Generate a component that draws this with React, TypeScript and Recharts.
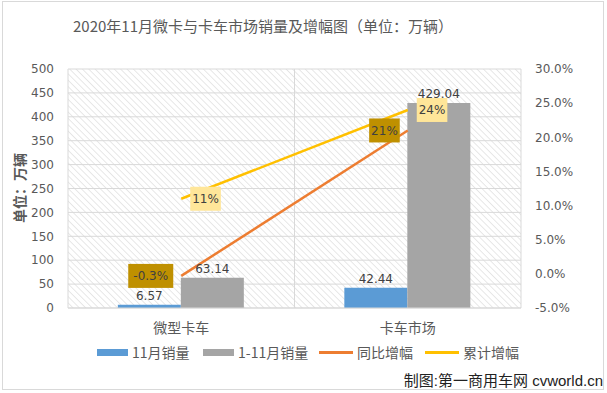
import { ComposedChart, Bar, Line, XAxis, YAxis, CartesianGrid, LabelList } from 'recharts';

const categories = ['微型卡车', '卡车市场'];
const novSales = [6.57, 42.44];
const ytdSales = [63.14, 429.04];
const yoyGrowth = [-0.3, 21];
const ytdGrowth = [11, 24];
const leftTicks = [0, 50, 100, 150, 200, 250, 300, 350, 400, 450, 500];
const rightTicks = [-5, 0, 5, 10, 15, 20, 25, 30];

const data = categories.map((name, i) => ({
  name,
  nov: novSales[i],
  ytd: ytdSales[i],
  yoy: yoyGrowth[i],
  cum: ytdGrowth[i],
}));

const NUM_FONT = '"DejaVu Sans", "Noto Sans CJK SC", sans-serif';
const CJK_FONT = '"Noto Sans CJK SC", "DejaVu Sans", sans-serif';
const TEXT = '#595959';

const BLUE = '#5B9BD5';
const GRAY = '#A5A5A5';
const ORANGE = '#ED7D31';
const YELLOW = '#FFC000';

const boxLabel = (side: 'left' | 'right', bg: string) => (props: any) => {
  const { x, y, value } = props;
  const txt = `${value}%`;
  const w = txt.length * 7.2 + 9;
  const h = 24;
  const bx = side === 'left' ? x - 8 - w : x + 9;
  return (
    <g>
      <rect x={bx} y={y - h / 2} width={w} height={h} fill={bg} />
      <text
        x={bx + w / 2}
        y={y + 1}
        textAnchor="middle"
        dominantBaseline="middle"
        fontSize={12}
        fontFamily={NUM_FONT}
        fill="#404040"
      >
        {txt}
      </text>
    </g>
  );
};

// legend entries, left edge of each swatch as in the reference
const legendItems = [
  { label: '11月销量', color: BLUE, kind: 'bar', left: 97 },
  { label: '1-11月销量', color: GRAY, kind: 'bar', left: 203 },
  { label: '同比增幅', color: ORANGE, kind: 'line', left: 319 },
  { label: '累计增幅', color: YELLOW, kind: 'line', left: 425 },
];

export default function App() {
  return (
    <div style={{ position: 'absolute', left: 0, top: 0, width: 607, height: 393, background: '#fff' }}>
      <div
        style={{
          position: 'absolute',
          left: 2,
          top: 1,
          width: 602,
          height: 389,
          border: '1px solid #d9d9d9',
          boxSizing: 'border-box',
        }}
      />
      <ComposedChart
        width={607}
        height={393}
        data={data}
        margin={{ top: 69, right: 26, bottom: 55, left: 18 }}
        barCategoryGap="22%"
        barGap={0}
      >
        <defs>
          <pattern id="hatch" width="4.5" height="4.5" patternUnits="userSpaceOnUse" patternTransform="rotate(-45)">
            <rect width="4.5" height="4.5" fill="#ffffff" />
            <line x1="0" y1="0" x2="0" y2="4.5" stroke="#d9d9d9" strokeWidth="1.2" />
          </pattern>
        </defs>
        <CartesianGrid
          yAxisId="left"
          fill="url(#hatch)"
          stroke="#d9d9d9"
          verticalCoordinatesGenerator={({ offset }: any) => [
            offset.left,
            offset.left + offset.width / 2,
            offset.left + offset.width,
          ]}
        />
        <XAxis
          dataKey="name"
          height={30}
          axisLine={{ stroke: '#d9d9d9' }}
          tickLine={false}
          tickMargin={9}
          tick={{ fontSize: 14, fontFamily: CJK_FONT, fill: TEXT }}
        />
        <YAxis
          yAxisId="left"
          width={50}
          domain={[0, 500]}
          ticks={leftTicks}
          interval={0}
          axisLine={false}
          tickLine={false}
          tickMargin={8}
          tick={{ fontSize: 12, fontFamily: NUM_FONT, fill: TEXT }}
        />
        <YAxis
          yAxisId="right"
          orientation="right"
          width={60}
          domain={[-5, 30]}
          ticks={rightTicks}
          interval={0}
          axisLine={false}
          tickLine={false}
          tickMargin={8}
          tickFormatter={(v: number) => `${v.toFixed(1)}%`}
          tick={{ fontSize: 12, fontFamily: NUM_FONT, fill: TEXT, textAnchor: 'start' }}
        />
        <Bar yAxisId="left" dataKey="nov" fill={BLUE} isAnimationActive={false}>
          <LabelList dataKey="nov" position="top" fontSize={12} fontFamily={NUM_FONT} fill="#404040" />
        </Bar>
        <Bar yAxisId="left" dataKey="ytd" fill={GRAY} isAnimationActive={false}>
          <LabelList dataKey="ytd" position="top" fontSize={12} fontFamily={NUM_FONT} fill="#404040" />
        </Bar>
        <Line
          yAxisId="right"
          dataKey="yoy"
          stroke={ORANGE}
          strokeWidth={2.5}
          dot={false}
          isAnimationActive={false}
        >
          <LabelList dataKey="yoy" content={boxLabel('left', '#BF9000')} />
        </Line>
        <Line
          yAxisId="right"
          dataKey="cum"
          stroke={YELLOW}
          strokeWidth={2.5}
          dot={false}
          isAnimationActive={false}
        >
          <LabelList dataKey="cum" content={boxLabel('right', '#FFE699')} />
        </Line>
      </ComposedChart>

      <div
        style={{
          position: 'absolute',
          left: 73,
          top: 15,
          fontSize: 15,
          fontFamily: CJK_FONT,
          color: TEXT,
          whiteSpace: 'nowrap',
          lineHeight: '22px',
        }}
      >
        2020年11月微卡与卡车市场销量及增幅图（单位：万辆）
      </div>

      <div
        style={{
          position: 'absolute',
          left: 19,
          top: 188,
          transform: 'translate(-50%, -50%) rotate(-90deg)',
          fontSize: 14,
          fontWeight: 'bold',
          fontFamily: CJK_FONT,
          color: TEXT,
          whiteSpace: 'nowrap',
        }}
      >
        单位：万辆
      </div>

      {legendItems.map((it) => (
        <div
          key={it.label}
          style={{
            position: 'absolute',
            left: it.left,
            top: 342,
            display: 'flex',
            alignItems: 'center',
            fontSize: 14,
            fontFamily: CJK_FONT,
            color: TEXT,
            whiteSpace: 'nowrap',
            lineHeight: '20px',
          }}
        >
          <span
            style={{
              display: 'inline-block',
              width: it.kind === 'bar' ? 31 : 34,
              height: it.kind === 'bar' ? 7 : 3,
              background: it.color,
              marginRight: 4,
            }}
          />
          <span>{it.label}</span>
        </div>
      ))}

      <div
        style={{
          position: 'absolute',
          right: 4,
          top: 371,
          fontSize: 15,
          fontFamily: '"Liberation Sans", "Noto Sans CJK SC", sans-serif',
          color: '#222',
          whiteSpace: 'nowrap',
          lineHeight: '20px',
        }}
      >
        制图:第一商用车网 cvworld.cn
      </div>
    </div>
  );
}
